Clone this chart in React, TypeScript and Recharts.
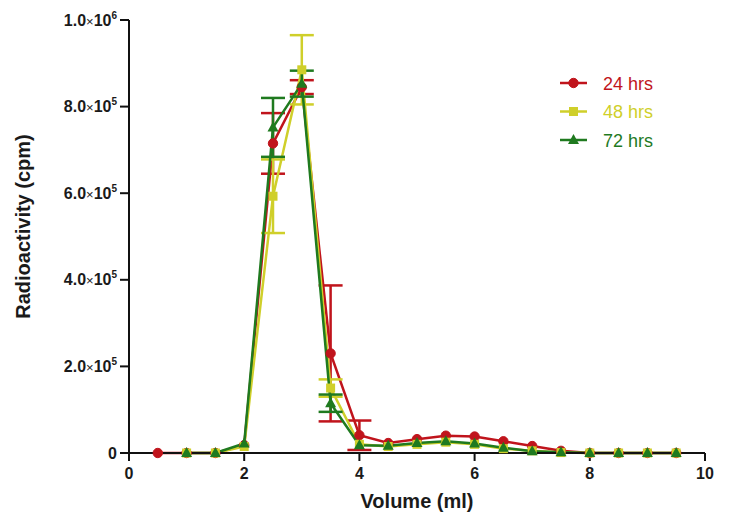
import React from "react";
import { LineChart, Line, XAxis, YAxis, ErrorBar } from "recharts";

const seriesNames = ["24 hrs", "48 hrs", "72 hrs"];
const seriesColors = ["#c0141c", "#cfcf2a", "#1f7a1f"];

const volRed = [0.5, 1, 1.5, 2, 2.5, 3, 3.5, 4, 4.5, 5, 5.5, 6, 6.5, 7, 7.5, 8, 8.5, 9, 9.5];
const valRed = [0, 0, 0, 18000, 715000, 845000, 230000, 41000, 23000, 32000, 40000, 38000, 27000, 16000, 5000, 0, 0, 0, 0];
const errRed = [0, 0, 0, 0, 70000, 16000, 157000, 34000, 0, 0, 0, 0, 0, 0, 0, 0, 0, 0, 0];

const volYellow = [1, 1.5, 2, 2.5, 3, 3.5, 4, 4.5, 5, 5.5, 6, 6.5, 7, 7.5, 8, 8.5, 9, 9.5];
const valYellow = [0, 0, 15000, 593000, 885000, 150000, 20000, 15000, 20000, 25000, 20000, 10000, 5000, 1000, 0, 0, 0, 0];
const errYellow = [0, 0, 0, 85000, 80000, 20000, 0, 0, 0, 0, 0, 0, 0, 0, 0, 0, 0, 0];

const volGreen = [1, 1.5, 2, 2.5, 3, 3.5, 4, 4.5, 5, 5.5, 6, 6.5, 7, 7.5, 8, 8.5, 9, 9.5];
const valGreen = [0, 0, 22000, 752000, 853000, 115000, 18000, 17000, 23000, 27000, 22000, 12000, 4000, 2000, 0, 0, 0, 0];
const errGreen = [0, 0, 0, 68000, 30000, 20000, 0, 0, 0, 0, 0, 0, 0, 0, 0, 0, 0, 0];

const xTicks = [0, 2, 4, 6, 8, 10];
const yTicks = [0, 200000, 400000, 600000, 800000, 1000000];
const yTickMantissa = ["0", "2.0", "4.0", "6.0", "8.0", "1.0"];
const yTickExp = ["", "5", "5", "5", "5", "6"];

const build = (xs: number[], ys: number[], es: number[]) =>
  xs.map((x, i) => ({ x, y: ys[i], e: es[i] }));

const dataRed = build(volRed, valRed, errRed);
const dataYellow = build(volYellow, valYellow, errYellow);
const dataGreen = build(volGreen, valGreen, errGreen);

const FONT = "'Liberation Sans', Arial, sans-serif";
const TXT = "#1a1a1a";

const YTick = (props: any) => {
  const { x, y, payload } = props;
  const i = yTicks.indexOf(payload.value);
  const exp = yTickExp[i];
  return (
    <text x={x - 1} y={y + 5.5} textAnchor="end" fontFamily={FONT} fontWeight="bold" fontSize={16} fill={TXT}>
      {exp ? (
        <>
          <tspan>{yTickMantissa[i]}</tspan>
          <tspan fontWeight="normal" fontSize={13}>×</tspan>
          <tspan>10</tspan>
          <tspan dy={-7} fontSize={10}>{exp}</tspan>
        </>
      ) : (
        <tspan>{yTickMantissa[i]}</tspan>
      )}
    </text>
  );
};

const XTick = (props: any) => {
  const { x, y, payload } = props;
  return (
    <text x={x} y={y + 16} textAnchor="middle" fontFamily={FONT} fontWeight="bold" fontSize={16} fill={TXT}>
      {payload.value}
    </text>
  );
};

const Marker = ({ kind, cx, cy, color }: { kind: number; cx: number; cy: number; color: string }) => {
  if (kind === 0) return <circle cx={cx} cy={cy} r={4.7} fill={color} stroke={color} />;
  if (kind === 1) return <rect x={cx - 4.5} y={cy - 4.5} width={9} height={9} fill={color} />;
  return <polygon points={`${cx},${cy - 6} ${cx - 5.5},${cy + 4} ${cx + 5.5},${cy + 4}`} fill={color} />;
};

const makeDot = (kind: number, color: string) => (props: any) => {
  const { cx, cy, index } = props;
  if (cx == null || cy == null) return <g key={`d-${kind}-${index}`} />;
  return (
    <g key={`d-${kind}-${index}`}>
      <Marker kind={kind} cx={cx} cy={cy} color={color} />
    </g>
  );
};

const LegendBox = () => (
  <svg width={140} height={90} style={{ position: "absolute", left: 556, top: 70 }}>
    {seriesNames.map((n, i) => {
      const yy = 13 + i * 28.5;
      return (
        <g key={n}>
          <line x1={4} x2={31} y1={yy} y2={yy} stroke={seriesColors[i]} strokeWidth={2.5} />
          <Marker kind={i} cx={17.5} cy={yy} color={seriesColors[i]} />
          <text x={47} y={yy + 6.5} fontFamily={FONT} fontSize={18} fill={seriesColors[i]}>
            {n}
          </text>
        </g>
      );
    })}
  </svg>
);

const YLabel = (props: any) => {
  const vb = props.viewBox || {};
  const cy = vb.y + vb.height / 2 - 10;
  return (
    <text
      x={30}
      y={cy}
      transform={`rotate(-90 30 ${cy})`}
      textAnchor="middle"
      fontFamily={FONT}
      fontWeight="bold"
      fontSize={20}
      fill={TXT}
    >
      Radioactivity (cpm)
    </text>
  );
};

const XLabel = (props: any) => {
  const vb = props.viewBox || {};
  const cx = vb.x + vb.width / 2;
  return (
    <text x={cx} y={508} textAnchor="middle" fontFamily={FONT} fontWeight="bold" fontSize={20} fill={TXT}>
      Volume (ml)
    </text>
  );
};

export default function App() {
  const datasets = [dataRed, dataYellow, dataGreen];
  return (
    <div style={{ position: "absolute", left: 0, top: 0, width: 729, height: 521, background: "#fff" }}>
      <LineChart width={729} height={521} margin={{ top: 20, right: 24, bottom: 8, left: 49 }}>
        <XAxis
          type="number"
          dataKey="x"
          domain={[0, 10]}
          ticks={xTicks}
          allowDuplicatedCategory={false}
          stroke="#111"
          strokeWidth={2}
          tickSize={8}
          tick={<XTick />}
          height={60}
          label={{ content: <XLabel /> } as any}
        />
        <YAxis
          type="number"
          domain={[0, 1000000]}
          ticks={yTicks}
          stroke="#111"
          strokeWidth={2}
          tickSize={9}
          tick={<YTick />}
          width={80}
          label={{ content: <YLabel /> } as any}
        />
        {datasets.map((d, i) => (
          <Line
            key={seriesNames[i]}
            data={d}
            dataKey="y"
            name={seriesNames[i]}
            stroke={seriesColors[i]}
            strokeWidth={2.5}
            dot={makeDot(i, seriesColors[i])}
            activeDot={false}
            isAnimationActive={false}
          >
            <ErrorBar dataKey="e" direction="y" width={12} stroke={seriesColors[i]} strokeWidth={2.5} />
          </Line>
        ))}
      </LineChart>
      <LegendBox />
    </div>
  );
}
